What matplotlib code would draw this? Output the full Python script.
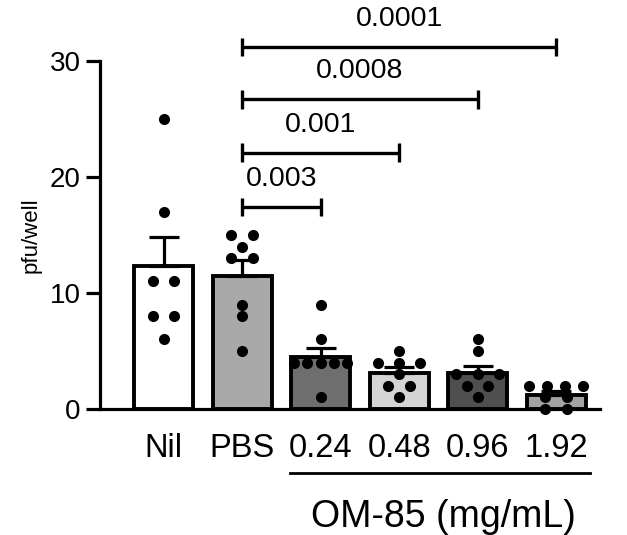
import numpy as np
import matplotlib
matplotlib.use("Agg")
import matplotlib.pyplot as plt

plt.rcParams['font.family'] = ['Liberation Sans', 'DejaVu Sans']

# data
groups = ["Nil", "PBS", "0.24", "0.48", "0.96", "1.92"]
nil = [25, 17, 11, 11, 8, 8, 6]
pbs = [15, 15, 14, 13, 13, 9, 8, 5]
om_024 = [9, 6, 4, 4, 4, 4, 4, 1]
om_048 = [5, 4, 4, 4, 3, 2, 2, 1]
om_096 = [6, 5, 3, 3, 3, 2, 2, 1]
om_192 = [2, 2, 2, 2, 1, 1, 0, 0]
bar_colors = ["#ffffff", "#a9a9a9", "#6e6e6e", "#d4d4d4", "#4f4f4f", "#a3a3a3"]

# comparisons against PBS
comp_to = [2, 3, 4, 5]
p_values = ["0.003", "0.001", "0.0008", "0.0001"]
bracket_y = [17.4, 22.1, 26.7, 31.2]

all_data = [nil, pbs, om_024, om_048, om_096, om_192]


def swarm_offsets(vals, max_step=0.27, span=0.68):
    # spread repeated values side by side inside the bar
    vals = np.asarray(vals)
    offs = np.zeros(len(vals))
    for v in np.unique(vals):
        idx = np.where(vals == v)[0]
        n = len(idx)
        if n > 1:
            step = min(max_step, span / (n - 1))
            offs[idx] = (np.arange(n) - (n - 1) / 2) * step
    return offs


fig = plt.figure(figsize=(6.27, 5.35), dpi=100)
ax = fig.add_axes([0.1595, 0.2355, 0.7975, 0.6505])

x = np.arange(len(groups))
means = [np.mean(d) for d in all_data]
sems = [np.std(d, ddof=1) / np.sqrt(len(d)) for d in all_data]

ax.bar(x, means, width=0.75, color=bar_colors, edgecolor="black",
       linewidth=2.8, zorder=2)
ax.errorbar(x, means, yerr=[np.zeros(len(sems)), sems], fmt="none",
            ecolor="black", elinewidth=2.3, capsize=11, capthick=2.3, zorder=3)

for i, d in enumerate(all_data):
    ax.scatter(i + swarm_offsets(d), d, s=64, color="black", zorder=4,
               clip_on=False, linewidths=0)

# significance brackets
for j, p, yb in zip(comp_to, p_values, bracket_y):
    ax.plot([1, j], [yb, yb], color="black", lw=2.4, clip_on=False,
            solid_capstyle="butt")
    for xe in (1, j):
        ax.plot([xe, xe], [yb - 0.8, yb + 0.8], color="black", lw=2.4,
                clip_on=False, solid_capstyle="butt")
    ax.text((1 + j) / 2, yb + 2.4, p, ha="center", va="center",
            fontsize=20.5)

ax.set_xlim(-0.81, 5.56)
ax.set_ylim(0, 30)
ax.set_yticks([0, 10, 20, 30])
ax.set_xticks(x)
ax.set_xticklabels(groups, fontsize=23.5)
ax.tick_params(axis="x", length=0, pad=17)
ax.tick_params(axis="y", length=10, width=2.3, labelsize=20, pad=4)
ax.set_ylabel("pfu/well", fontsize=16, labelpad=6)

for s in ["top", "right"]:
    ax.spines[s].set_visible(False)
ax.spines["left"].set_linewidth(2.3)
ax.spines["bottom"].set_linewidth(2.3)

# group line and label under the OM-85 doses
fig.add_artist(plt.Line2D([290 / 627, 590 / 627], [1 - 473 / 535, 1 - 473 / 535],
                          color="black", lw=2))
fig.text(443 / 627, 1 - 517 / 535, "OM-85 (mg/mL)", ha="center", va="center",
         fontsize=27)

fig.savefig("out.png", dpi=100)
